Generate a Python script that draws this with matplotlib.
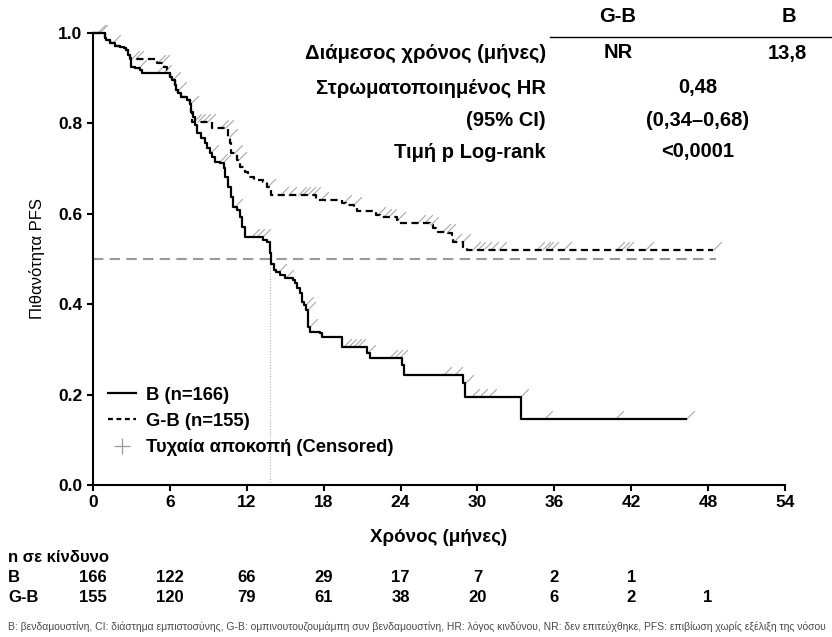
import numpy as np
import matplotlib
matplotlib.use("Agg")
import matplotlib.pyplot as plt
from matplotlib.path import Path
from matplotlib.lines import Line2D
import matplotlib.transforms as mtransforms

# ---------------- data ----------------
b_time = [0, 0.94, 1.05, 1.3, 1.7, 2.1, 2.4, 2.6, 2.75, 2.85, 2.95, 3.0, 3.3, 3.7, 3.8,
          6.0, 6.15, 6.4, 6.5, 6.65, 6.9, 7.3, 7.55, 7.65, 7.8, 7.95, 8.1, 8.4, 8.75,
          8.9, 9.1, 9.3, 9.5, 9.9, 10.2, 10.3, 10.55, 10.8, 10.95, 11.2, 11.5, 11.6,
          11.85, 13.3, 13.6, 13.8, 13.9, 14.1, 14.3, 14.6, 15.0, 15.6, 15.8, 15.9,
          16.15, 16.3, 16.5, 16.65, 16.8, 16.95, 17.7, 17.85, 19.4, 21.35, 21.6,
          24.1, 24.25, 28.9, 29.05, 33.4, 46.3]
b_surv = [1.0, 0.988, 0.985, 0.977, 0.972, 0.970, 0.966, 0.962, 0.951, 0.944, 0.937,
          0.925, 0.922, 0.918, 0.911, 0.903, 0.896, 0.885, 0.874, 0.867, 0.859, 0.852,
          0.844, 0.826, 0.815, 0.796, 0.778, 0.767, 0.756, 0.745, 0.734, 0.726, 0.715,
          0.712, 0.701, 0.682, 0.660, 0.638, 0.616, 0.608, 0.594, 0.571, 0.549, 0.542,
          0.538, 0.513, 0.490, 0.476, 0.472, 0.465, 0.457, 0.454, 0.446, 0.435, 0.424,
          0.405, 0.398, 0.387, 0.350, 0.339, 0.336, 0.328, 0.306, 0.291, 0.280, 0.265,
          0.243, 0.225, 0.195, 0.147, 0.147]

gb_time = [0, 0.94, 1.05, 1.3, 1.7, 2.1, 2.4, 2.6, 2.75, 2.85, 5.0, 5.5, 5.75, 5.9,
           6.0, 6.15, 6.4, 6.5, 6.65, 6.9, 7.3, 7.55, 7.65, 7.7, 9.3, 10.5, 10.7, 10.8,
           11.2, 11.5, 11.9, 12.1, 12.6, 13.3, 13.55, 13.9, 17.4, 19.45, 19.75, 20.4,
           20.6, 22.1, 22.4, 23.7, 23.8, 26.3, 26.55, 26.9, 27.7, 28.0, 28.1, 28.9,
           29.2, 48.4]
gb_surv = [1.0, 0.988, 0.985, 0.977, 0.972, 0.970, 0.966, 0.962, 0.951, 0.942, 0.933,
           0.925, 0.918, 0.911, 0.903, 0.896, 0.885, 0.874, 0.867, 0.859, 0.852, 0.844,
           0.826, 0.804, 0.789, 0.770, 0.756, 0.734, 0.719, 0.704, 0.693, 0.682, 0.675,
           0.671, 0.660, 0.642, 0.630, 0.623, 0.619, 0.616, 0.606, 0.597, 0.594, 0.586,
           0.579, 0.575, 0.568, 0.560, 0.557, 0.553, 0.538, 0.527, 0.520, 0.520]

b_censor = [0.5, 1.5, 3.5, 4.9, 5.5, 6.2, 7.6, 9.1, 9.8, 10.1, 11.0, 12.3, 12.7, 13.2,
            14.4, 15.0, 16.55, 16.7, 16.85, 19.5, 19.9, 20.3, 20.6, 21.4, 23.1, 23.5,
            23.9, 27.3, 28.2, 29.0, 29.5, 30.1, 30.8, 33.3, 35.2, 40.7, 46.3]
gb_censor = [0.3, 3.0, 3.3, 5.0, 5.3, 6.6, 7.8, 8.1, 8.5, 8.9, 9.9, 10.3, 10.6, 11.0,
             11.3, 13.6, 14.6, 15.2, 16.0, 16.3, 16.7, 17.1, 17.7, 19.5, 20.3, 22.2,
             22.6, 23.0, 23.7, 25.3, 25.8, 26.3, 27.2, 27.6, 28.1, 28.8, 29.6, 30.0,
             30.4, 31.0, 31.6, 34.6, 35.0, 35.3, 35.7, 36.7, 40.8, 41.2, 41.5, 43.1, 48.4]

median_b = 13.8
median_line_end = 48.6

risk_times = [0, 6, 12, 18, 24, 30, 36, 42, 48]
risk_b = [166, 122, 66, 29, 17, 7, 2, 1]
risk_gb = [155, 120, 79, 61, 38, 20, 6, 2, 1]

x_ticks = [0, 6, 12, 18, 24, 30, 36, 42, 48, 54]
y_ticks = [0.0, 0.2, 0.4, 0.6, 0.8, 1.0]

table_cols = ["G-B", "B"]
table_rows = ["Διάμεσος χρόνος (μήνες)", "Στρωματοποιημένος HR", "(95% CI)", "Τιμή p Log-rank"]
table_median = ["NR", "13,8"]
table_shared = ["0,48", "(0,34–0,68)", "<0,0001"]

legend_labels = ["B (n=166)", "G-B (n=155)", "Τυχαία αποκοπή (Censored)"]
footnote = ("B: βενδαμουστίνη, CI: διάστημα εμπιστοσύνης, G-B: ομπινουτουζουμάμπη συν "
            "βενδαμουστίνη, HR: λόγος κινδύνου, NR: δεν επιτεύχθηκε, PFS: επιβίωση "
            "χωρίς εξέλιξη της νόσου")

# ---------------- style ----------------
SANS = ["Liberation Sans", "DejaVu Sans"]
NARROW = ["Liberation Sans Narrow", "Liberation Sans", "DejaVu Sans"]
plt.rcParams["font.family"] = SANS

W, H = 832, 637
fig = plt.figure(figsize=(W / 100, H / 100), dpi=100)
ax = fig.add_axes([93 / W, 1 - 485 / H, (785 - 93) / W, (485 - 33) / H])


def fx(px):
    return px / W


def fy(py):
    return 1 - py / H


def step_value(times, surv, t):
    i = np.searchsorted(times, t, side="right") - 1
    return np.asarray(surv)[i]


# median reference lines
ax.plot([0, median_line_end], [0.5, 0.5], color="#9a9a9a", lw=1.5,
        dashes=(5, 3.0), zorder=1, clip_on=False)
ax.plot([median_b, median_b], [0, 0.5], color="#b0b0b0", lw=0.8,
        linestyle=(0, (1, 1.5)), zorder=1)

# curves
ax.step(b_time, b_surv, where="post", color="black", lw=1.6, zorder=3, clip_on=False)
l_gb, = ax.step(gb_time, gb_surv, where="post", color="black", lw=1.6, zorder=3,
                clip_on=False)
l_gb.set_dashes((3.2, 2.0))

# censor marks
cmark = Path([(0, 0), (1, 1)], [Path.MOVETO, Path.LINETO])
for times, surv, cens in [(b_time, b_surv, b_censor), (gb_time, gb_surv, gb_censor)]:
    cy = [step_value(times, surv, t) for t in cens]
    ax.plot(cens, cy, linestyle="none", marker=cmark, markersize=12,
            markeredgewidth=0.8, markeredgecolor="#a8a8a8", markerfacecolor="none",
            zorder=2, clip_on=False)

# axes
ax.set_xlim(0, 54)
ax.set_ylim(0, 1.0)
for s in ["top", "right"]:
    ax.spines[s].set_visible(False)
for s in ["left", "bottom"]:
    ax.spines[s].set_linewidth(1.5)
ax.set_xticks(x_ticks)
ax.set_yticks(y_ticks)
ax.set_xticklabels([str(v) for v in x_ticks])
ax.set_yticklabels([f"{v:.1f}" for v in y_ticks])
ax.tick_params(direction="out", length=4.5, width=1.5, pad=3)
for lab in ax.get_xticklabels() + ax.get_yticklabels():
    lab.set_fontfamily(NARROW)
    lab.set_fontweight("bold")
    lab.set_fontsize(12.5)

ax.set_xlabel("Χρόνος (μήνες)", fontsize=13.5, fontweight="bold")
ax.xaxis.set_label_coords(0.5, -0.097)
ax.set_ylabel("Πιθανότητα PFS", fontsize=12)
ax.yaxis.set_label_coords(-0.07, 0.5)

# legend
handles = [Line2D([], [], color="black", lw=1.6),
           Line2D([], [], color="black", lw=1.6, dashes=(2.2, 1.6)),
           Line2D([], [], color="#9a9a9a", marker="+", markersize=11,
                  markeredgewidth=0.9, linestyle="none")]
leg = ax.legend(handles, legend_labels, loc="lower left", bbox_to_anchor=(0.022, 0.064),
                frameon=False, borderpad=0, borderaxespad=0, handlelength=1.5,
                handletextpad=0.55, labelspacing=0.5,
                prop={"family": SANS, "weight": "bold", "size": 13.2})

# stats table
tfont = dict(fontsize=14.5, fontweight="bold", family=SANS)
fig.text(fx(618), fy(16), table_cols[0], ha="center", va="center", **tfont)
fig.text(fx(789), fy(16), table_cols[1], ha="center", va="center", **tfont)
fig.add_artist(Line2D([fx(550), fx(832)], [fy(37), fy(37)], color="black", lw=1.0))
row_y = [53, 88, 120, 152]
for lbl, yy in zip(table_rows, row_y):
    fig.text(fx(546), fy(yy), lbl, ha="right", va="center", **tfont)
fig.text(fx(618), fy(row_y[0]), table_median[0], ha="center", va="center", **tfont)
fig.text(fx(787), fy(row_y[0]), table_median[1], ha="center", va="center", **tfont)
for val, yy in zip(table_shared, row_y[1:]):
    fig.text(fx(698), fy(yy), val, ha="center", va="center", **tfont)

# risk table
rfont = dict(fontsize=12, fontweight="bold", family=NARROW)
trans = mtransforms.blended_transform_factory(ax.transData, fig.transFigure)
fig.text(fx(8), fy(558), "n σε κίνδυνο", ha="left", va="center", **rfont)
fig.text(fx(8), fy(578), "B", ha="left", va="center", **rfont)
fig.text(fx(8), fy(598), "G-B", ha="left", va="center", **rfont)
for t, n in zip(risk_times, risk_b):
    ax.text(t, fy(578), str(n), transform=trans, ha="center", va="center",
            clip_on=False, **rfont)
for t, n in zip(risk_times, risk_gb):
    ax.text(t, fy(598), str(n), transform=trans, ha="center", va="center",
            clip_on=False, **rfont)

# footnote (sized so the whole sentence fits inside the figure)
fig.text(fx(8), fy(627), footnote, ha="left", va="center", fontsize=7.5,
         color="#4a4a4a", family=NARROW)

fig.savefig("out.png", dpi=100)
